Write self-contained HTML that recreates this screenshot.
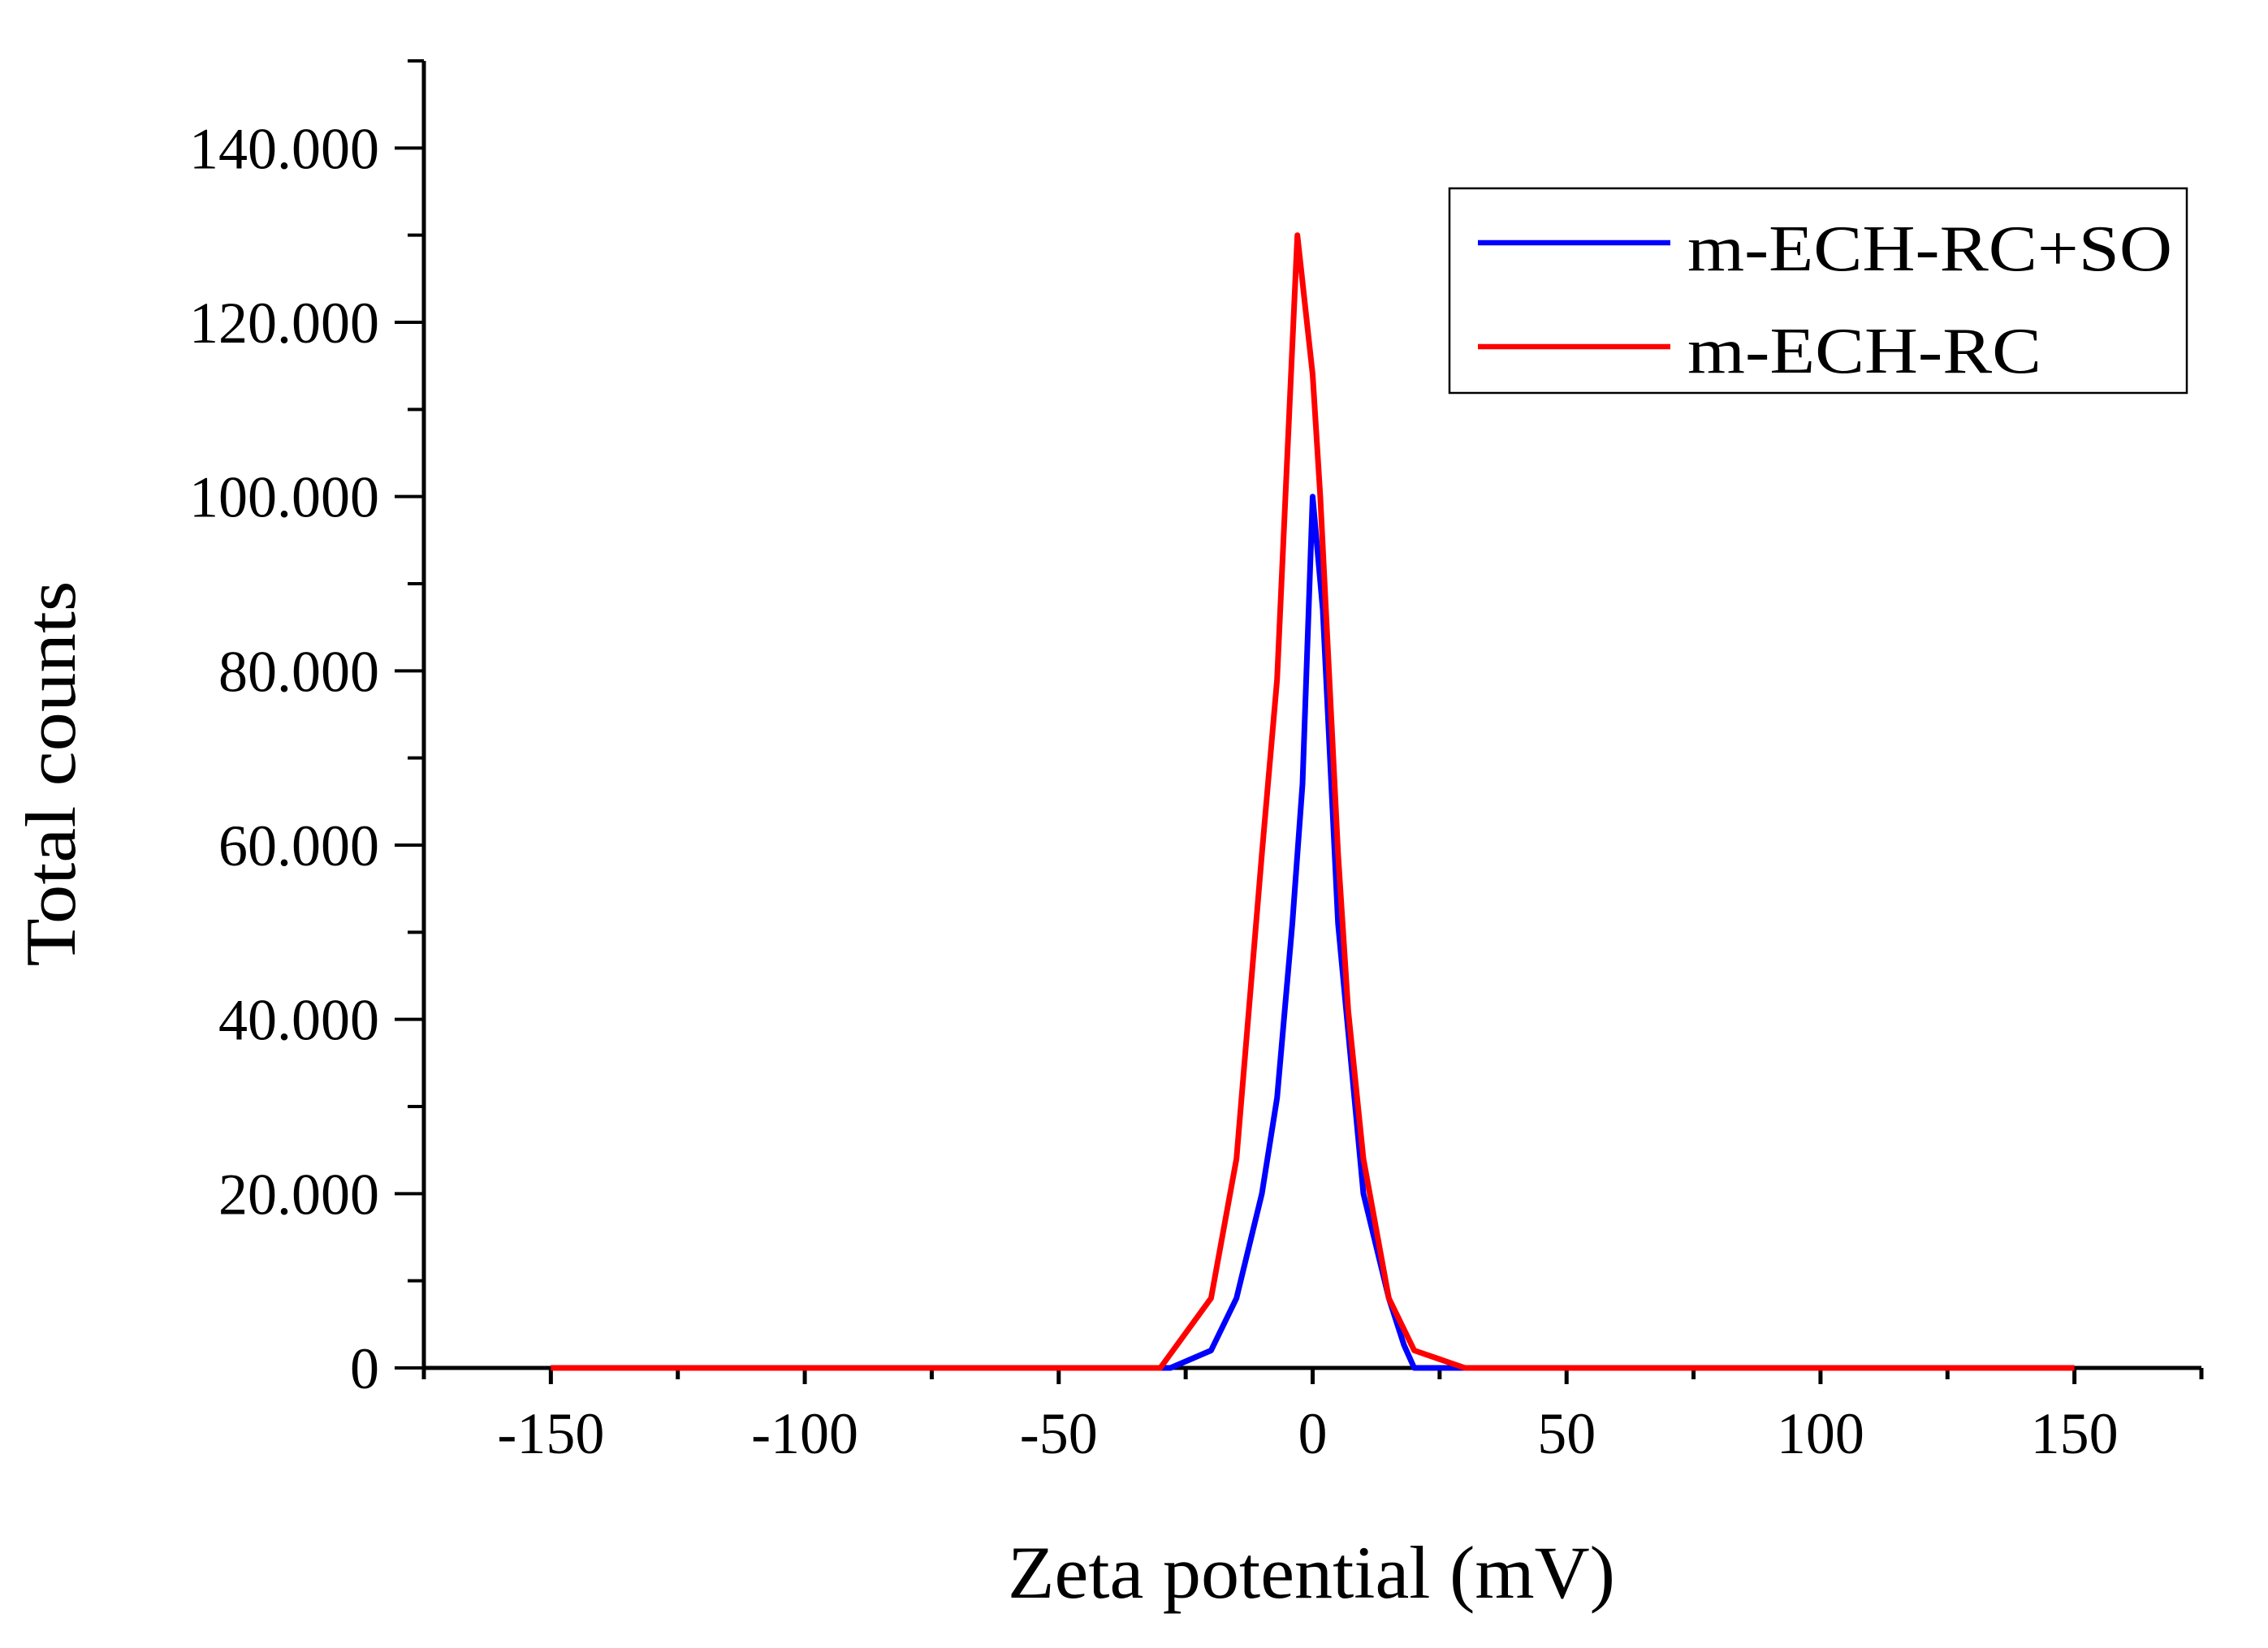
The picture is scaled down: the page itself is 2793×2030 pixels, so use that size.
<!DOCTYPE html>
<html><head><meta charset="utf-8"><style>
html,body{margin:0;padding:0;background:#fff;}
svg{display:block;font-family:"Liberation Serif",serif;}
</style></head><body>
<svg id="chart" width="2793" height="2030" viewBox="0 0 2793 2030" xmlns="http://www.w3.org/2000/svg">
<g id="axes"></g>
<g id="series"></g>
<g id="legend">
  <rect x="1785" y="232" width="908" height="252" fill="#fff" stroke="#000" stroke-width="2.5"/>
  <line x1="1820" y1="299" x2="2057" y2="299" stroke="#0000ff" stroke-width="6.5"/>
  <text x="2078" y="333" font-size="80" textLength="597" lengthAdjust="spacingAndGlyphs">m-ECH-RC+SO</text>
  <line x1="1820" y1="427" x2="2057" y2="427" stroke="#ff0000" stroke-width="6.5"/>
  <text x="2078" y="459" font-size="80" textLength="436" lengthAdjust="spacingAndGlyphs">m-ECH-RC</text>
</g>
<text x="1615" y="1968" font-size="92" text-anchor="middle" textLength="748" lengthAdjust="spacingAndGlyphs">Zeta potential (mV)</text>
<text transform="translate(92,953) rotate(-90)" font-size="88" text-anchor="middle" textLength="475" lengthAdjust="spacingAndGlyphs">Total counts</text>
</svg>
<script>
const xTicks = [-150, -100, -50, 0, 50, 100, 150];
const xTickLabels = ["-150", "-100", "-50", "0", "50", "100", "150"];
const yTicks = [0, 20, 40, 60, 80, 100, 120, 140];
const yTickLabels = ["0", "20.000", "40.000", "60.000", "80.000", "100.000", "120.000", "140.000"];
const blueX = [-150, -28, -20, -15, -10, -7, -4, -2, 0, 2, 5, 10, 15, 18, 20, 150];
const blueY = [0, 0, 2, 8, 20, 31, 51, 67, 100, 87, 51, 20, 8, 2.6, 0, 0];
const redX = [-150, -30, -20, -15, -10, -7, -3, 0, 1.5, 5, 7, 10, 15, 20, 30, 150];
const redY = [0, 0, 8, 24, 59, 79, 130, 114, 100, 59, 41, 24, 8, 2, 0, 0];

const NS = "http://www.w3.org/2000/svg";
const X0 = 522, X1 = 2711, Y0 = 1685, Y1 = 75;
const xMin = -175, xMax = 175, yMin = 0, yMax = 150;
function sx(v){ return X0 + (v - xMin) / (xMax - xMin) * (X1 - X0); }
function sy(v){ return Y0 - (v - yMin) / (yMax - yMin) * (Y0 - Y1); }
function mk(tag, attrs, parent){ const e = document.createElementNS(NS, tag); for (const k in attrs) e.setAttribute(k, attrs[k]); parent.appendChild(e); return e; }

const axes = document.getElementById('axes');
let e = mk('line', {x1: X0, y1: Y1, x2: X0, y2: Y0 + 2, stroke: '#000', 'stroke-width': 5}, axes);


e = mk('line', {x1: X0 - 2, y1: Y0, x2: X1, y2: Y0, stroke: '#000', 'stroke-width': 5}, axes);



for (let v = 0; v <= 150; v += 10) {
  const major = v % 20 === 0;
  const t = mk('line', {x1: X0 - (major ? 36 : 20), y1: sy(v), x2: X0, y2: sy(v), stroke: '#000', 'stroke-width': 4}, axes);
  
  
}
yTicks.forEach((v, i) => {
  const t = mk('text', {x: 467, y: sy(v) + 25, 'font-size': 72, 'text-anchor': 'end'}, axes);
  t.textContent = yTickLabels[i];
  
  
});
for (let v = -175; v <= 175; v += 25) {
  const major = v % 50 === 0;
  const t = mk('line', {x1: sx(v), y1: Y0, x2: sx(v), y2: Y0 + (major ? 20 : 14), stroke: '#000', 'stroke-width': 5}, axes);
  
  
}
xTicks.forEach((v, i) => {
  const t = mk('text', {x: sx(v), y: 1790, 'font-size': 72, 'text-anchor': 'middle'}, axes);
  t.textContent = xTickLabels[i];
  
  
});

const series = document.getElementById('series');
function pts(xs, ys){ return xs.map((x, i) => sx(x).toFixed(1) + ',' + sy(ys[i]).toFixed(1)).join(' '); }
const b = mk('polyline', {points: pts(blueX, blueY), fill: 'none', stroke: '#0000ff', 'stroke-width': 7, 'stroke-linejoin': 'round'}, series);


const r = mk('polyline', {points: pts(redX, redY), fill: 'none', stroke: '#ff0000', 'stroke-width': 7, 'stroke-linejoin': 'round'}, series);


</script>
</body></html>
